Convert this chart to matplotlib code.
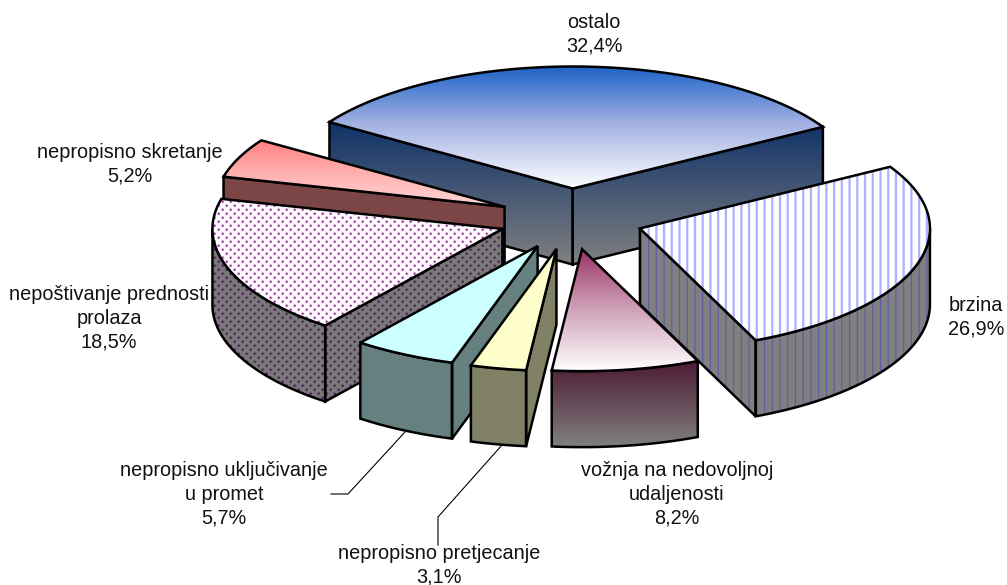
import numpy as np
import matplotlib
matplotlib.use("Agg")
import matplotlib.pyplot as plt
from matplotlib.patches import Polygon

categories = ["ostalo", "brzina", "vožnja na nedovoljnoj\nudaljenosti", "nepropisno pretjecanje",
              "nepropisno uključivanje\nu promet", "nepoštivanje prednosti\nprolaza", "nepropisno skretanje"]
values = [32.4, 26.9, 8.2, 3.1, 5.7, 18.5, 5.2]
label_xy = [(594, 34.5), (976, 317), (677, 494.5), (439, 565.5), (224, 494.5), (109, 318.5), (130, 164.5)]

# styles: (kind, top colour start, top colour mid, top colour end, side start, side end)
styles = [
    ("grad", (30, 100, 200), (160, 175, 226), (255, 255, 255), (15, 50, 105), (128, 128, 128)),
    ("stripes", None, None, None, None, None),
    ("grad", (153, 51, 102), (204, 153, 178), (255, 255, 255), (77, 26, 51), (128, 128, 128)),
    ("grad", (255, 255, 204), (255, 255, 204), (255, 255, 204), (128, 128, 102), (128, 128, 102)),
    ("grad", (204, 255, 255), (204, 255, 255), (204, 255, 255), (102, 128, 128), (102, 128, 128)),
    ("dots", None, None, None, None, None),
    ("grad", (255, 128, 128), (255, 172, 172), (255, 215, 215), (125, 70, 70), (125, 70, 70)),
]
draw_order = [0, 6, 5, 1, 2, 4, 3]

W, H = 1007, 585
CX, CY, RX, RY, DEPTH = 571, 219, 290, 122, 76
EXPLODE = 0.25
START = -57.0
LW = 1.8

plt.rcParams["font.family"] = ["Liberation Sans", "DejaVu Sans"]
fig = plt.figure(figsize=(W / 100, H / 100), dpi=100)
ax = fig.add_axes([0, 0, 1, 1])
ax.axis("off")

yy, xx = np.mgrid[0:H, 0:W] + 0.5


def stripe_img(base, ink, width):
    d = np.abs(((xx - 857.3 + 3.865) % 7.73) - 3.865)
    a = np.clip(width - d * 0.9, 0, 1)[..., None] * 0.95
    return (np.array(base) * (1 - a) + np.array(ink) * a) / 255


def dot_img(base, ink):
    row = np.floor((yy - 219.7) / 4)
    x0 = 266.7 + 4 * (row % 2)
    dx = ((xx - x0 + 4) % 8) - 4
    dy = ((yy - 221.7 + 2) % 4) - 2
    a = np.exp(-(dx ** 2 + dy ** 2) / 1.3)[..., None]
    return (np.array(base) * (1 - a) + np.array(ink) * a) / 255


pattern = {
    "stripes": (stripe_img((255, 255, 255), (170, 170, 255), 1.5), stripe_img((128, 128, 128), (88, 88, 170), 1.0)),
    "dots": (dot_img((255, 255, 255), (128, 0, 128)), dot_img((122, 122, 122), (64, 0, 80))),
}


def paint(polys, kind, stops, idx, z):
    """Fill polygons with the given fill; gradient spans the group's bbox."""
    ys = np.concatenate([p[:, 1] for p in polys])
    xs = np.concatenate([p[:, 0] for p in polys])
    for p in polys:
        clip = Polygon(p, closed=True, transform=ax.transData, facecolor="none", edgecolor="none")
        ax.add_patch(clip)
        if kind == "grad":
            t = np.linspace(0, 1, 256)
            pos = np.linspace(0, 1, len(stops))
            pos = [0, 0.45, 1] if len(stops) == 3 else pos
            img = np.stack([np.interp(t, pos, [s[c] for s in stops]) for c in range(3)], axis=-1)[:, None, :] / 255
            im = ax.imshow(img, extent=(xs.min(), xs.max(), ys.max(), ys.min()),
                           aspect="auto", interpolation="bilinear", zorder=z)
        else:
            im = ax.imshow(pattern[kind][idx], extent=(0, W, H, 0), aspect="auto",
                           interpolation="nearest", zorder=z)
        im.set_clip_path(clip)
        ax.add_patch(Polygon(p, closed=True, facecolor="none", edgecolor="black",
                             lw=LW, joinstyle="miter", zorder=z + 0.5))


edges = START + np.concatenate([[0], np.cumsum(values)]) * 3.6
for n, i in enumerate(draw_order):
    a, b = edges[i], edges[i + 1]
    mid = np.radians((a + b) / 2)
    ax_x = CX + EXPLODE * RX * np.sin(mid)
    ax_y = CY - EXPLODE * RY * np.cos(mid)
    apex = np.array([ax_x, ax_y])

    def P(deg):
        t = np.radians(deg)
        return np.column_stack([ax_x + RX * np.sin(t), ax_y - RY * np.cos(t)])

    down = np.array([0, DEPTH])
    sides = []
    if np.sin(np.radians(a)) < 0:
        e = P(a)[0]
        sides.append(np.array([apex, e, e + down, apex + down]))
    if np.sin(np.radians(b)) > 0:
        e = P(b)[0]
        sides.append(np.array([apex, e, e + down, apex + down]))
    lo, hi = max(a, 90), min(b, 270)
    if lo < hi:
        arc = P(np.linspace(lo, hi, 80))
        sides.append(np.vstack([arc, (arc + down)[::-1]]))
    top = np.vstack([apex, P(np.linspace(a, b, 160))])

    kind, t0, tm, t1, s0, s1 = styles[i]
    z = 2 + n * 2
    if sides:
        paint(sides, kind, (s0, s1), 1, z)
    paint([top], kind, (t0, tm, t1), 0, z + 1)

ax.plot([405, 348, 331], [432, 494, 494], color="black", lw=0.8, zorder=30)
ax.plot([502, 438, 438], [445, 517, 545], color="black", lw=0.8, zorder=30)

for name, v, (x, y) in zip(categories, values, label_xy):
    txt = f"{name}\n{v:.1f}%".replace(".", ",")
    ax.text(x, y, txt, ha="center", va="center", fontsize=14.3, color="#111111",
            linespacing=1.33, zorder=40)

ax.set_xlim(0, W)
ax.set_ylim(H, 0)
fig.savefig("out.png", dpi=100, facecolor="white")
